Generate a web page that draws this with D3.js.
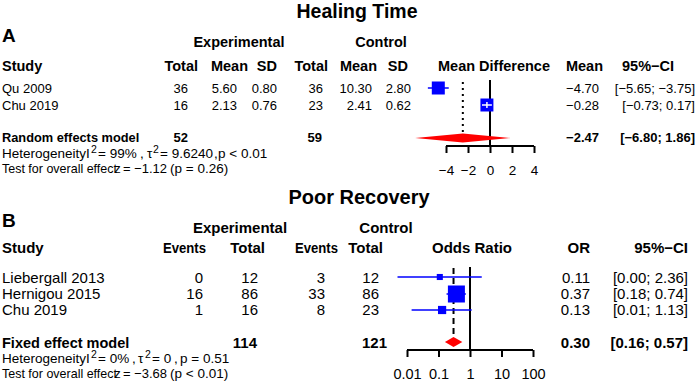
<!DOCTYPE html>
<html><head><meta charset="utf-8">
<script src="https://cdn.jsdelivr.net/npm/d3@7"></script>
<style>
body{margin:0;background:#fff;}
svg{display:block;font-family:"Liberation Sans",Arial,sans-serif;}
</style></head>
<body>
<svg id="c" width="696" height="382"></svg>
<script>
// ---------- Panel A data (Healing Time) ----------
const studiesA = ["Qu 2009", "Chu 2019"];
const expTotalA = [36, 16];
const expMeanA = [5.60, 2.13];
const expSdA = [0.80, 0.76];
const ctlTotalA = [36, 23];
const ctlMeanA = [10.30, 2.41];
const ctlSdA = [2.80, 0.62];
const mdA = [-4.70, -0.28];
const mdLowA = [-5.65, -0.73];
const mdHighA = [-3.75, 0.17];
const weightA = [50.1, 49.9];
const pooledA = {label: "Random effects model", expN: 52, ctlN: 59, est: -2.47, low: -6.80, high: 1.86};
const ticksA = [-4, -2, 0, 2, 4];

// ---------- Panel B data (Poor Recovery) ----------
const studiesB = ["Liebergall 2013", "Hernigou 2015", "Chu 2019"];
const expEventsB = [0, 16, 1];
const expTotalB = [12, 86, 16];
const ctlEventsB = [3, 33, 8];
const ctlTotalB = [12, 86, 23];
const orB = [0.11, 0.37, 0.13];
const orLowB = [0.005, 0.18, 0.014];
const orHighB = [2.36, 0.74, 1.13];
const ciLabelB = ["[0.00; 2.36]", "[0.18; 0.74]", "[0.01; 1.13]"];
const weightB = [9.4, 73.5, 17.1];
const pooledB = {label: "Fixed effect model", expN: 114, ctlN: 121, est: 0.30, low: 0.16, high: 0.57};
const ticksB = [0.01, 0.1, 1, 10, 100];

const svg = d3.select("#c");
const fmt2 = d3.format(".2f");
const num = v => fmt2(v).replace("-", "\u2212");

function txt(x, y, s, opt = {}) {
  const t = svg.append("text").attr("x", x).attr("y", y)
    .attr("font-size", opt.size || 13)
    .attr("font-weight", opt.bold ? "bold" : "normal")
    .attr("text-anchor", opt.anchor || "start")
    .attr("fill", "#000").text(s);
  if (opt.len) t.attr("textLength", opt.len).attr("lengthAdjust", "spacingAndGlyphs");
  return t;
}
function sup(x, y, s) { return txt(x, y, s, {size: 10.5}); }

// ================= PANEL A =================
txt(357, 17.5, "Healing Time", {size: 19.5, bold: true, anchor: "middle"});
txt(2, 42, "A", {size: 19, bold: true});
txt(239, 47, "Experimental", {size: 14.5, bold: true, anchor: "middle"});
txt(381, 47, "Control", {size: 14.5, bold: true, anchor: "middle"});
const hA = 71;
txt(2, hA, "Study", {size: 14.5, bold: true});
[["Total",198],["Mean",248],["SD",277],["Total",328],["Mean",377],["SD",408]].forEach(d =>
  txt(d[1], hA, d[0], {size: 14.5, bold: true, anchor: "end"}));
txt(494, hA, "Mean Difference", {size: 14.5, bold: true, anchor: "middle"});
txt(603, hA, "Mean", {size: 14.5, bold: true, anchor: "end"});
txt(648, hA, "95%\u2212CI", {size: 14.5, bold: true, anchor: "middle"});

const rowYA = [93, 110];
const markYA = [88, 105];
studiesA.forEach((s, i) => {
  const y = rowYA[i];
  txt(2, y, s);
  txt(188, y, expTotalA[i], {anchor: "end"});
  txt(237, y, fmt2(expMeanA[i]), {anchor: "end"});
  txt(277, y, fmt2(expSdA[i]), {anchor: "end"});
  txt(323, y, ctlTotalA[i], {anchor: "end"});
  txt(372, y, fmt2(ctlMeanA[i]), {anchor: "end"});
  txt(411, y, fmt2(ctlSdA[i]), {anchor: "end"});
  txt(599, y, num(mdA[i]), {anchor: "end"});
  const ci = "[" + num(mdLowA[i]) + "; " + (mdHighA[i] < 0 ? "" : " ") + num(mdHighA[i]) + "]";
  txt(695, y, ci, {anchor: "end"});
});
txt(2, 142, pooledA.label, {bold: true, size: 12.8});
txt(188, 142, pooledA.expN, {bold: true, anchor: "end"});
txt(322, 142, pooledA.ctlN, {bold: true, anchor: "end"});
txt(599, 142, num(pooledA.est), {bold: true, anchor: "end"});
txt(695, 142, "[" + num(pooledA.low) + "; " + " " + num(pooledA.high) + "]", {bold: true, anchor: "end"});

// heterogeneity lines A
const hs = 13.5;
txt(2, 158, "Heterogeneity", {size: hs, len: 84});
txt(86, 158, "I", {size: hs});
sup(91, 153, "2");
txt(98, 158, "= 99%", {size: hs});
txt(140, 158, ",", {size: hs});
txt(147, 158, "\u03c4", {size: hs});
sup(153, 153, "2");
txt(160, 158, "= 9.6240", {size: hs});
txt(214, 158, ",", {size: hs});
txt(218, 158, "p < 0.01", {size: hs});
txt(2, 173, "Test for overall effect", {size: hs, len: 115});
txt(114, 173, "z", {size: hs});
txt(123, 173, "= \u22121.12", {size: hs, len: 44});
txt(170, 173, "(p = 0.26)", {size: hs});

// forest A
const xA = d3.scaleLinear().domain([-4, 4]).range([446, 534]);
const axA = svg.append("g").attr("transform", "translate(0,146)")
  .call(d3.axisBottom(xA).tickValues(ticksA).tickSize(7).tickPadding(12)
    .tickFormat(d => d < 0 ? "\u2212" + Math.abs(d) : d));
axA.select(".domain").attr("stroke-width", 2).attr("d", `M${xA(-4)},0H${xA(4)}`);
axA.selectAll(".tick line").attr("stroke-width", 2);
axA.selectAll(".tick text").attr("font-size", 13.5).attr("font-family", "Liberation Sans, Arial, sans-serif").attr("fill", "#000");
// zero line
svg.append("line").attr("x1", xA(0)).attr("x2", xA(0)).attr("y1", 80).attr("y2", 146)
  .attr("stroke", "#000").attr("stroke-width", 2);
// pooled dotted line
svg.append("line").attr("x1", xA(pooledA.est)).attr("x2", xA(pooledA.est)).attr("y1", 82).attr("y2", 134)
  .attr("stroke", "#000").attr("stroke-width", 2).attr("stroke-dasharray", "2,4");
const maxSideA = 13, maxWA = d3.max(weightA);
studiesA.forEach((s, i) => {
  const y = markYA[i];
  const side = maxSideA * Math.sqrt(weightA[i] / maxWA);
  const cx = xA(mdA[i]);
  const inside = xA(mdLowA[i]) >= cx - side / 2 && xA(mdHighA[i]) <= cx + side / 2;
  if (!inside) svg.append("line").attr("x1", xA(mdLowA[i])).attr("x2", xA(mdHighA[i]))
    .attr("y1", y).attr("y2", y).attr("stroke", "#0000ff").attr("stroke-width", 1.5);
  svg.append("rect").attr("x", cx - side / 2).attr("y", y - side / 2).attr("width", side).attr("height", side)
    .attr("fill", "#0000ff");
  if (inside) {
    svg.append("line").attr("x1", xA(mdLowA[i])).attr("x2", xA(mdHighA[i]))
      .attr("y1", y).attr("y2", y).attr("stroke", "#fff").attr("stroke-width", 1.5);
    svg.append("line").attr("x1", cx).attr("x2", cx).attr("y1", y - 3).attr("y2", y + 3)
      .attr("stroke", "#fff").attr("stroke-width", 1.5);
  }
});
svg.append("path").attr("fill", "#ff0000")
  .attr("d", `M${xA(pooledA.low)},138L${xA(pooledA.est)},133.5L${xA(pooledA.high)},138L${xA(pooledA.est)},142.5Z`);

// ================= PANEL B =================
txt(359, 204, "Poor Recovery", {size: 20, bold: true, anchor: "middle"});
txt(2, 227, "B", {size: 19, bold: true});
txt(240, 233, "Experimental", {size: 15, bold: true, anchor: "middle"});
txt(386, 233, "Control", {size: 15, bold: true, anchor: "middle"});
const hB = 253;
txt(2, hB, "Study", {size: 15, bold: true});
txt(206, hB, "Events", {size: 15, bold: true, anchor: "end", len: 43});
txt(265, hB, "Total", {size: 15, bold: true, anchor: "end"});
txt(338, hB, "Events", {size: 15, bold: true, anchor: "end", len: 43});
txt(383, hB, "Total", {size: 15, bold: true, anchor: "end"});
txt(472, hB, "Odds Ratio", {size: 15, bold: true, anchor: "middle"});
txt(590, hB, "OR", {size: 15, bold: true, anchor: "end"});
txt(688, hB, "95%\u2212CI", {size: 15, bold: true, anchor: "end"});

const rowYB = [283, 299, 315];
const markYB = [277, 294, 310];
const bs = 15;
studiesB.forEach((s, i) => {
  const y = rowYB[i];
  txt(2, y, s, {size: bs});
  txt(203, y, expEventsB[i], {anchor: "end", size: bs});
  txt(258, y, expTotalB[i], {anchor: "end", size: bs});
  txt(325, y, ctlEventsB[i], {anchor: "end", size: bs});
  txt(379, y, ctlTotalB[i], {anchor: "end", size: bs});
  txt(590, y, fmt2(orB[i]), {anchor: "end", size: bs});
  txt(688, y, ciLabelB[i], {anchor: "end", size: bs});
});
txt(2, 348, pooledB.label, {bold: true, size: 14.5});
txt(257, 348, pooledB.expN, {bold: true, anchor: "end", size: bs});
txt(387, 348, pooledB.ctlN, {bold: true, anchor: "end", size: bs});
txt(590, 348, fmt2(pooledB.est), {bold: true, anchor: "end", size: bs});
txt(688, 348, "[" + fmt2(pooledB.low) + "; " + fmt2(pooledB.high) + "]", {bold: true, anchor: "end", size: bs});

txt(2, 363, "Heterogeneity", {size: hs, len: 84});
txt(86, 363, "I", {size: hs});
sup(91, 358, "2");
txt(98, 363, "= 0%", {size: hs});
txt(132, 363, ",", {size: hs});
txt(138, 363, "\u03c4", {size: hs});
sup(145, 358, "2");
txt(152, 363, "= 0", {size: hs});
txt(174, 363, ",", {size: hs});
txt(180, 363, "p = 0.51", {size: hs});
txt(2, 378, "Test for overall effect", {size: hs, len: 115});
txt(114, 378, "z", {size: hs});
txt(123, 378, "= \u22123.68", {size: hs, len: 44});
txt(170, 378, "(p < 0.01)", {size: hs});

const xB = d3.scaleLog().domain([0.01, 100]).range([407, 533]);
const axB = svg.append("g").attr("transform", "translate(0,350)")
  .call(d3.axisBottom(xB).tickValues(ticksB).tickSize(7).tickPadding(12).tickFormat(d => String(d)));
axB.select(".domain").attr("stroke-width", 2).attr("d", `M${xB(0.01)},0H${xB(100)}`);
axB.selectAll(".tick line").attr("stroke-width", 2);
axB.selectAll(".tick text").attr("font-size", 14.5).attr("font-family", "Liberation Sans, Arial, sans-serif").attr("fill", "#000");
svg.append("line").attr("x1", xB(1)).attr("x2", xB(1)).attr("y1", 267).attr("y2", 350)
  .attr("stroke", "#000").attr("stroke-width", 2);
svg.append("line").attr("x1", xB(pooledB.est)).attr("x2", xB(pooledB.est)).attr("y1", 268).attr("y2", 338)
  .attr("stroke", "#000").attr("stroke-width", 2).attr("stroke-dasharray", "6,4");
const maxSideB = 17, maxWB = d3.max(weightB);
studiesB.forEach((s, i) => {
  const y = markYB[i];
  const side = maxSideB * Math.sqrt(weightB[i] / maxWB);
  const cx = xB(orB[i]);
  svg.append("line").attr("x1", xB(orLowB[i])).attr("x2", xB(orHighB[i]))
    .attr("y1", y).attr("y2", y).attr("stroke", "#0000ff").attr("stroke-width", 1.5);
  svg.append("rect").attr("x", cx - side / 2).attr("y", y - side / 2).attr("width", side).attr("height", side)
    .attr("fill", "#0000ff");
});
svg.append("path").attr("fill", "#ff0000")
  .attr("d", `M${xB(pooledB.low)},342L${xB(pooledB.est)},337L${xB(pooledB.high)},342L${xB(pooledB.est)},347Z`);
</script>
</body></html>
